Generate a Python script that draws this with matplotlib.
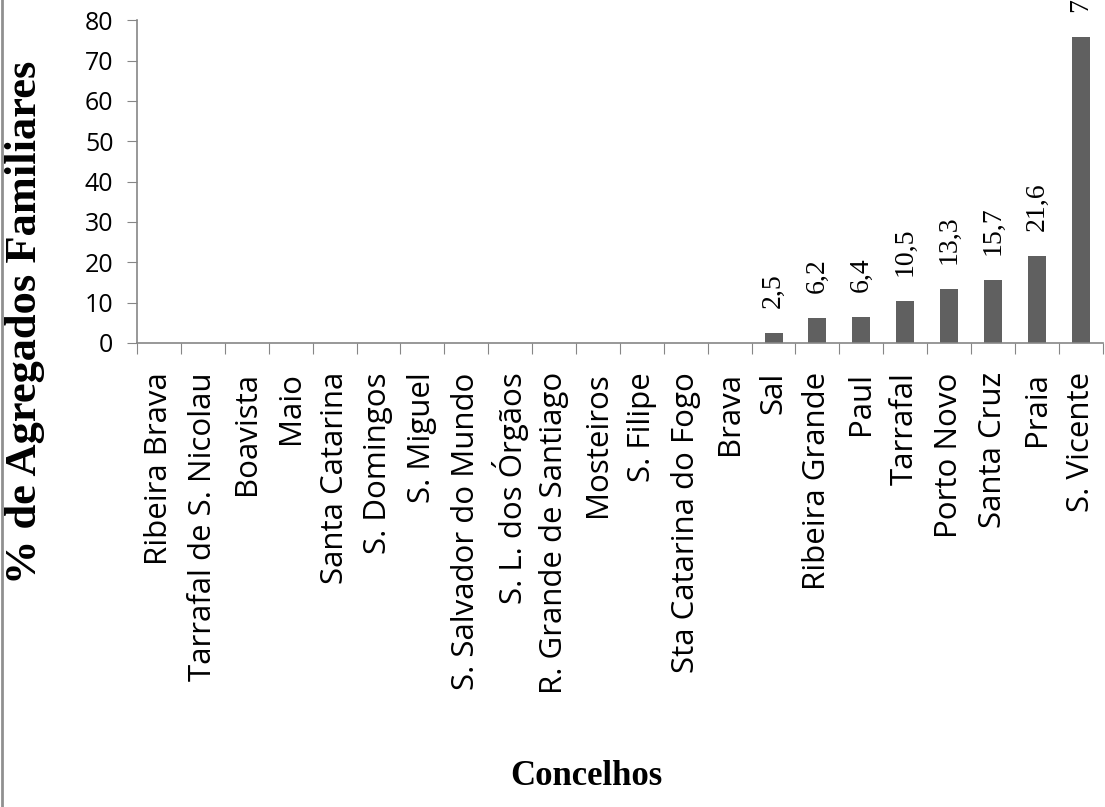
import matplotlib
matplotlib.use("Agg")
import matplotlib.pyplot as plt
from matplotlib.lines import Line2D

concelhos = ["Ribeira Brava", "Tarrafal de S. Nicolau", "Boavista", "Maio",
             "Santa Catarina", "S. Domingos", "S. Miguel", "S. Salvador do Mundo",
             "S. L. dos Órgãos", "R. Grande de Santiago", "Mosteiros", "S. Filipe",
             "Sta Catarina do Fogo", "Brava", "Sal", "Ribeira Grande", "Paul",
             "Tarrafal", "Porto Novo", "Santa Cruz", "Praia", "S. Vicente"]
valores = [0, 0, 0, 0, 0, 0, 0, 0, 0, 0, 0, 0, 0, 0,
           2.5, 6.2, 6.4, 10.5, 13.3, 15.7, 21.6, 75.8]
rotulos = ["", "", "", "", "", "", "", "", "", "", "", "", "", "",
           "2,5", "6,2", "6,4", "10,5", "13,3", "15,7", "21,6", "75,8"]
yticks = [0, 10, 20, 30, 40, 50, 60, 70, 80]

cinza = "#868686"
fig = plt.figure(figsize=(11.05, 8.07), dpi=100)
ax = fig.add_axes([0.124, 0.575, 0.874, 0.400])

x = list(range(len(concelhos)))
ax.bar(x, valores, width=0.41, color="#606060", zorder=2)
for xi, v, r in zip(x, valores, rotulos):
    if r:
        ax.annotate(r, (xi, v), xytext=(0, 18), textcoords="offset points",
                    rotation=90, ha="center", va="bottom",
                    family="Liberation Serif", fontsize=20, annotation_clip=False)

ax.set_xlim(-0.5, len(concelhos) - 0.5)
ax.set_ylim(0, 80)
ax.set_yticks(yticks)
ax.set_yticklabels([str(t) for t in yticks], family="Open Sans", fontsize=18)

# ticks nas fronteiras das categorias, rotulos no centro
ax.set_xticks([i - 0.5 for i in range(len(concelhos) + 1)])
ax.set_xticklabels([])
ax.set_xticks(x, minor=True)
ax.set_xticklabels(concelhos, minor=True, rotation=90, va="top", ha="center",
                   family="Open Sans", fontsize=22.5)
ax.tick_params(axis="x", which="major", length=8, color=cinza, direction="out")
ax.tick_params(axis="x", which="minor", length=0, pad=21)
ax.tick_params(axis="y", length=7, color=cinza, pad=10, direction="out")

for s in ["top", "right"]:
    ax.spines[s].set_visible(False)
for s in ["left", "bottom"]:
    ax.spines[s].set_color(cinza)
    ax.spines[s].set_linewidth(1.2)

fig.text(0.023, 0.600, "% de Agregados Familiares", rotation=90, ha="center", va="center",
         family="Liberation Serif", fontweight="bold", fontsize=32)
fig.text(0.531, 0.027, "Concelhos", ha="center", va="baseline",
         family="Liberation Serif", fontweight="bold", fontsize=25)

fig.add_artist(Line2D([0.002, 0.002], [0, 1], transform=fig.transFigure,
                      color="#909090", linewidth=2))

fig.savefig("out.png", dpi=100)
